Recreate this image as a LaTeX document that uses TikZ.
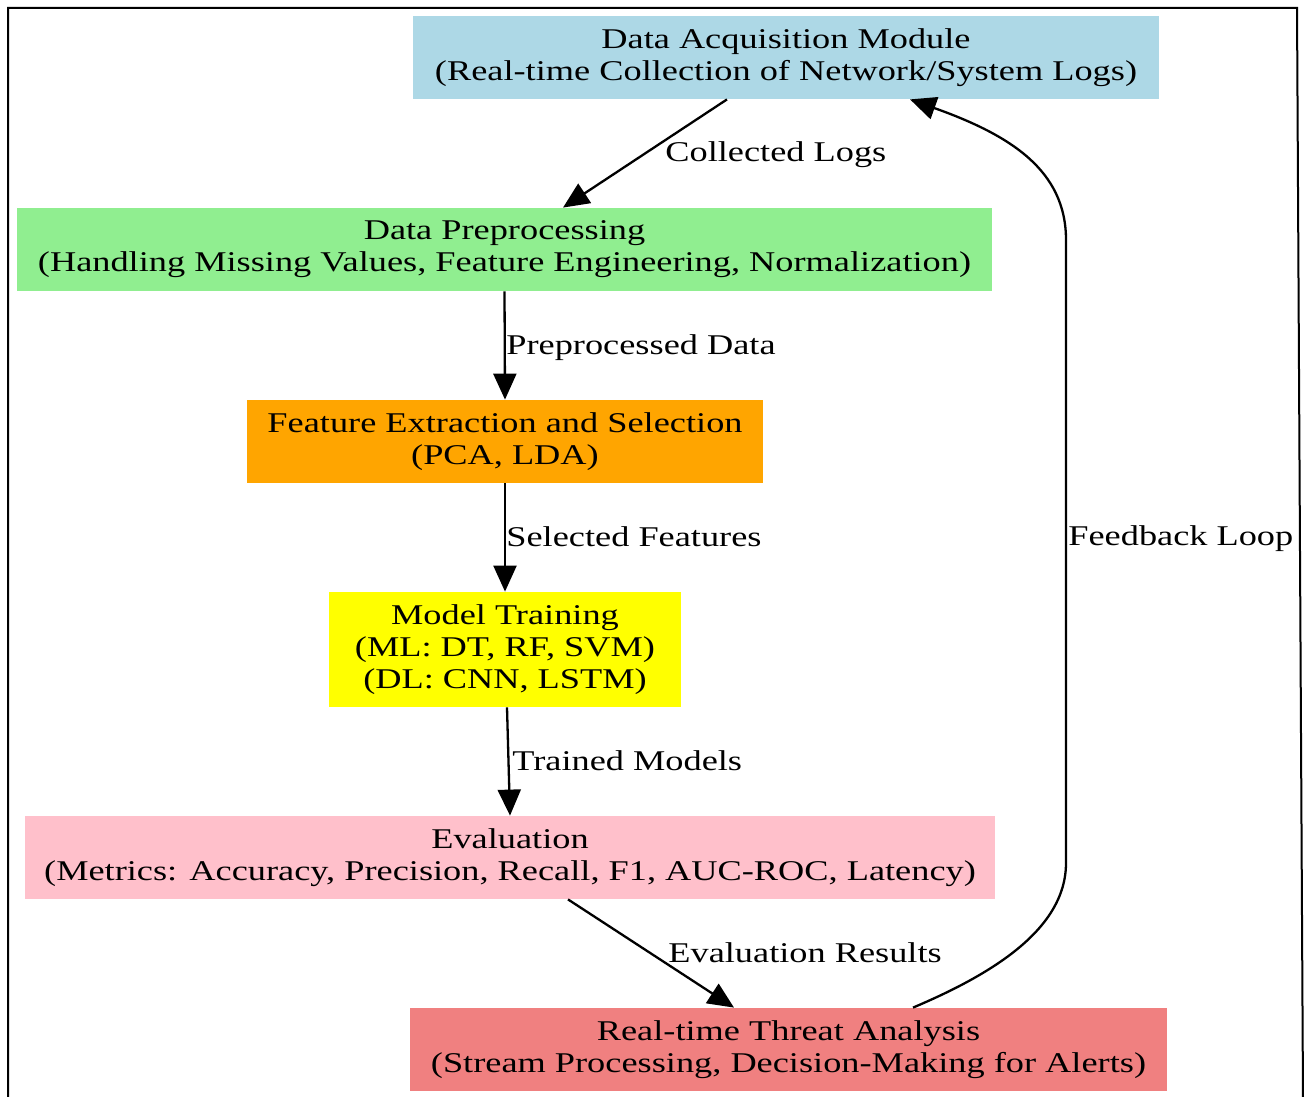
\documentclass[tikz,border=0pt]{standalone}
\usepackage{fontspec}
\setmainfont{Liberation Serif}
\newfontfamily\gvfont[FakeStretch=1.27]{Liberation Serif}
\usetikzlibrary{arrows.meta,calc}
\definecolor{gvlightblue}{HTML}{ADD8E6}
\definecolor{gvlightgreen}{HTML}{90EE90}
\definecolor{gvorange}{HTML}{FFA500}
\definecolor{gvyellow}{HTML}{FFFF00}
\definecolor{gvpink}{HTML}{FFC0CB}
\definecolor{gvcoral}{HTML}{F08080}
\begin{document}
\begin{tikzpicture}[x=0.5pt,y=-0.5pt,
  gvbox/.style={rectangle, inner sep=0pt, align=center, draw=none,
    font=\gvfont\fontsize{14.3pt}{16pt}\selectfont},
  gvlabel/.style={inner sep=0pt, anchor=base west,
    font=\gvfont\fontsize{14.3pt}{16pt}\selectfont},
  gvedge/.style={line width=1.15pt, -{Triangle[length=13pt,width=11.5pt]}}]
\useasboundingbox (0,0) rectangle (1306,1097);
\draw[line width=1pt] (8,1100) -- (8,8) -- (1297,8) -- (1303,1100);

\node[gvbox, fill=gvlightblue, minimum width=373pt, minimum height=41.5pt] (dam) at (786,57.5)
  {Data Acquisition Module\\(Real-time Collection of Network/System Logs)};
\node[gvbox, fill=gvlightgreen, minimum width=487.5pt, minimum height=41.5pt] (pre) at (504.5,249.5)
  {Data Preprocessing\\(Handling Missing Values, Feature Engineering, Normalization)};
\node[gvbox, fill=gvorange, minimum width=258pt, minimum height=41.5pt] (fes) at (505,441.5)
  {Feature Extraction and Selection\\(PCA, LDA)};
\node[gvbox, fill=gvyellow, minimum width=176pt, minimum height=57.5pt] (mt) at (505,649.5)
  {Model Training\\(ML: DT, RF, SVM)\\(DL: CNN, LSTM)};
\node[gvbox, fill=gvpink, minimum width=485pt, minimum height=41.5pt] (ev) at (510,857.5)
  {Evaluation\\(Metrics: Accuracy, Precision, Recall, F1, AUC-ROC, Latency)};
\node[gvbox, fill=gvcoral, minimum width=378.5pt, minimum height=41.5pt] (rta) at (788.5,1049.5)
  {Real-time Threat Analysis\\(Stream Processing, Decision-Making for Alerts)};

\draw[gvedge] ($(dam.south)+(-59,0)$) -- ($(pre.north)+(58.5,0)$);
\draw[gvedge] (pre.south) -- (fes.north);
\draw[gvedge] (fes.south) -- (mt.north);
\draw[gvedge] ($(mt.south)+(2,0)$) -- (ev.north);
\draw[gvedge] ($(ev.south)+(58,0)$) -- ($(rta.north)+(-54.5,0)$);
\draw[gvedge] ($(rta.north)+(124.5,0)$) .. controls (990,975) and (1066,930) .. (1066,863)
  -- (1066,240) .. controls (1066,170) and (1010,135) .. ($(dam.south)+(124,0)$);

\node[gvlabel] (l1) at (665,161.7) {Collected Logs};
\node[gvlabel] (l2) at (506,354) {Preprocessed Data};
\node[gvlabel] (l3) at (506,546) {Selected Features};
\node[gvlabel] (l4) at (512,770) {Trained Models};
\node[gvlabel] (l5) at (668,962) {Evaluation Results};
\node[gvlabel] (l6) at (1068,545) {Feedback Loop};
\end{tikzpicture}
\end{document}
